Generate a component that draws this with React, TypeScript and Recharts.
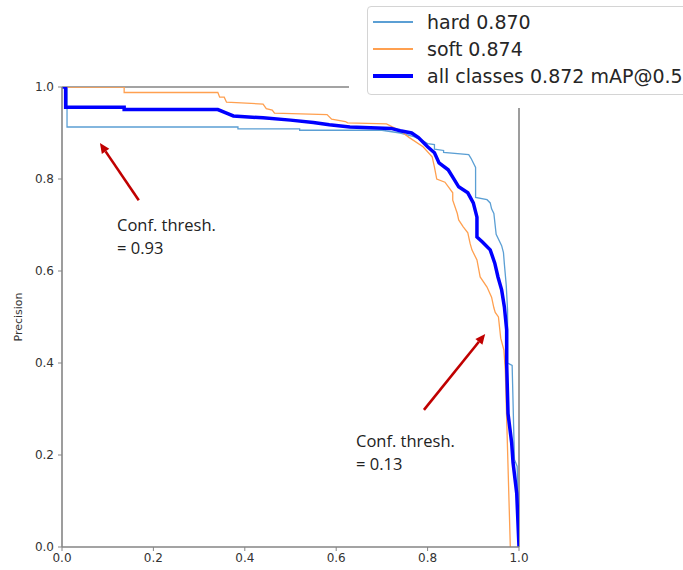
import React from 'react';
import { LineChart, Line, XAxis, YAxis, ReferenceLine, Legend } from 'recharts';

// precision / recall, step corners kept as duplicate recall values
const hardRecall = [0, 0.011, 0.011, 0.385, 0.385, 0.52, 0.52, 0.7, 0.74, 0.77, 0.79, 0.8, 0.815, 0.815, 0.835, 0.835, 0.89, 0.895, 0.905, 0.905, 0.93, 0.937, 0.94, 0.945, 0.95, 0.962, 0.966, 0.968, 0.972, 0.975, 0.975, 0.985, 0.986, 0.99, 0.996, 1.0];
const hardPrecision = [1.0, 1.0, 0.913, 0.913, 0.909, 0.909, 0.906, 0.906, 0.9, 0.892, 0.883, 0.877, 0.875, 0.865, 0.862, 0.858, 0.853, 0.845, 0.825, 0.76, 0.755, 0.748, 0.735, 0.725, 0.68, 0.655, 0.64, 0.615, 0.57, 0.515, 0.4, 0.395, 0.355, 0.19, 0.175, 0.0];

const softRecall = [0, 0.136, 0.136, 0.341, 0.345, 0.355, 0.36, 0.44, 0.447, 0.46, 0.465, 0.58, 0.59, 0.62, 0.625, 0.71, 0.74, 0.76, 0.79, 0.81, 0.815, 0.82, 0.838, 0.855, 0.855, 0.865, 0.868, 0.878, 0.888, 0.893, 0.897, 0.908, 0.915, 0.93, 0.94, 0.945, 0.948, 0.955, 0.96, 0.967, 0.97, 0.981];
const softPrecision = [1.0, 1.0, 0.988, 0.988, 0.978, 0.978, 0.967, 0.963, 0.953, 0.95, 0.943, 0.94, 0.93, 0.925, 0.922, 0.92, 0.905, 0.89, 0.87, 0.848, 0.826, 0.8, 0.793, 0.77, 0.754, 0.725, 0.711, 0.696, 0.683, 0.66, 0.646, 0.624, 0.587, 0.565, 0.543, 0.52, 0.51, 0.5, 0.454, 0.428, 0.385, 0.0];

const allRecall = [0, 0.008, 0.008, 0.136, 0.136, 0.341, 0.36, 0.375, 0.44, 0.5, 0.55, 0.585, 0.63, 0.72, 0.74, 0.765, 0.78, 0.8, 0.815, 0.825, 0.845, 0.855, 0.868, 0.888, 0.9, 0.908, 0.908, 0.92, 0.937, 0.947, 0.954, 0.962, 0.968, 0.973, 0.973, 0.976, 0.984, 0.987, 0.995, 1.0];
const allPrecision = [1.0, 1.0, 0.956, 0.956, 0.951, 0.951, 0.943, 0.937, 0.933, 0.928, 0.923, 0.918, 0.913, 0.91, 0.905, 0.9, 0.89, 0.87, 0.857, 0.835, 0.82, 0.804, 0.783, 0.77, 0.748, 0.717, 0.674, 0.663, 0.646, 0.617, 0.587, 0.559, 0.522, 0.472, 0.4, 0.29, 0.226, 0.183, 0.117, 0.0];

const seriesNames = ['hard 0.870', 'soft 0.874', 'all classes 0.872 mAP@0.5'];
const seriesColors = ['#5b9fd4', '#ffa050', '#0000ff'];
const seriesWidths = [1.3, 1.3, 3.5];

const axisTicks = [0, 0.2, 0.4, 0.6, 0.8, 1.0];

// arrows: [tailRecall, tailPrecision, headRecall, headPrecision]
const arrowLow = [0.168, 0.754, 0.083, 0.878];
const arrowHigh = [0.792, 0.298, 0.926, 0.463];
const noteLow = ['Conf. thresh.', '= 0.93'];
const noteHigh = ['Conf. thresh.', '= 0.13'];

const zip = (r: number[], p: number[]) => r.map((v, i) => ({ r: v, p: p[i] }));
const hardData = zip(hardRecall, hardPrecision);
const softData = zip(softRecall, softPrecision);
const allData = zip(allRecall, allPrecision);

const W = 683;
const H = 570;
const FONT = '"DejaVu Sans", sans-serif';
const SPINE = '#858585';
const ARROW = '#c00000';

function Arrow(props: any) {
  const { x1, y1, x2, y2 } = props;
  const dx = x2 - x1;
  const dy = y2 - y1;
  const len = Math.sqrt(dx * dx + dy * dy);
  const ux = dx / len;
  const uy = dy / len;
  const hl = 10;
  const hw = 4.5;
  const bx = x2 - ux * hl;
  const by = y2 - uy * hl;
  const pts = `${x2},${y2} ${bx - uy * hw},${by + ux * hw} ${bx + uy * hw},${by - ux * hw}`;
  return (
    <g>
      <line x1={x1} y1={y1} x2={bx} y2={by} stroke={ARROW} strokeWidth={2.6} />
      <polygon points={pts} fill={ARROW} />
    </g>
  );
}

function LegendBox() {
  return (
    <div
      style={{
        position: 'absolute',
        left: 18,
        top: 6,
        width: 340,
        height: 87,
        border: '1px solid #d4d4d4',
        borderRadius: 4,
        background: '#fff',
        fontFamily: FONT,
        fontSize: 19,
        color: '#262626',
      }}
    >
      {seriesNames.map((n, i) => (
        <div key={n} style={{ position: 'absolute', left: 0, top: 4 + i * 27, height: 22, width: 340 }}>
          <div
            style={{
              position: 'absolute',
              left: 5,
              top: 11 - seriesWidths[i] / 2,
              width: 40,
              height: seriesWidths[i] + 0.4,
              background: seriesColors[i],
            }}
          />
          <span style={{ position: 'absolute', left: 59, top: 0, lineHeight: '22px', whiteSpace: 'nowrap' }}>{n}</span>
        </div>
      ))}
    </div>
  );
}

function Note({ lines, left, top }: { lines: string[]; left: number; top: number }) {
  return (
    <div
      style={{
        position: 'absolute',
        left,
        top,
        fontFamily: '"Open Sans", Lato, sans-serif',
        fontSize: 16.5,
        lineHeight: '23px',
        color: '#222',
        whiteSpace: 'nowrap',
      }}
    >
      {lines.map((l) => (
        <div key={l}>{l}</div>
      ))}
    </div>
  );
}

export default function App() {
  return (
    <div style={{ position: 'absolute', left: 0, top: 0, width: W, height: H, background: '#fff', overflow: 'hidden' }}>
      <LineChart width={W} height={H} margin={{ top: 87, right: 164, bottom: 0, left: 0 }}>
        <XAxis
          type="number"
          dataKey="r"
          domain={[0, 1]}
          ticks={axisTicks}
          tickFormatter={(v: number) => v.toFixed(1)}
          height={23}
          allowDataOverflow
          axisLine={{ stroke: SPINE, strokeWidth: 1.6 }}
          tickLine={{ stroke: SPINE }}
          tickSize={4}
          tickMargin={2}
          tick={{ fontSize: 12, fill: '#333', fontFamily: FONT }}
        />
        <YAxis
          type="number"
          dataKey="p"
          domain={[0, 1]}
          ticks={axisTicks}
          tickFormatter={(v: number) => v.toFixed(1)}
          width={62}
          allowDataOverflow
          axisLine={{ stroke: SPINE, strokeWidth: 1.6 }}
          tickLine={{ stroke: SPINE }}
          tickSize={4}
          tickMargin={4}
          tick={{ fontSize: 12, fill: '#333', fontFamily: FONT }}
          label={{
            content: () => (
              <text
                x={18}
                y={317}
                transform="rotate(-90 18 317)"
                textAnchor="middle"
                dominantBaseline="central"
                fontSize={11}
                fontFamily={FONT}
                fill="#333"
              >
                Precision
              </text>
            ),
          }}
        />
        <ReferenceLine y={1} stroke={SPINE} strokeWidth={1.6} />
        <ReferenceLine x={1} stroke={SPINE} strokeWidth={1.6} />
        <Line data={hardData} dataKey="p" type="linear" stroke={seriesColors[0]} strokeWidth={seriesWidths[0]} dot={false} isAnimationActive={false} />
        <Line data={softData} dataKey="p" type="linear" stroke={seriesColors[1]} strokeWidth={seriesWidths[1]} dot={false} isAnimationActive={false} />
        <Line data={allData} dataKey="p" type="linear" stroke={seriesColors[2]} strokeWidth={seriesWidths[2]} dot={false} isAnimationActive={false} />
        <ReferenceLine
          segment={[{ x: arrowLow[0], y: arrowLow[1] }, { x: arrowLow[2], y: arrowLow[3] }]}
          shape={(p: any) => <Arrow {...p} />}
        />
        <ReferenceLine
          segment={[{ x: arrowHigh[0], y: arrowHigh[1] }, { x: arrowHigh[2], y: arrowHigh[3] }]}
          shape={(p: any) => <Arrow {...p} />}
        />
        <Legend
          layout="vertical"
          verticalAlign="middle"
          align="center"
          content={() => <LegendBox />}
          wrapperStyle={{ position: 'absolute', left: 349, top: 0, width: 334, height: 108, background: '#fff', overflow: 'hidden' }}
        />
      </LineChart>
      <Note lines={noteLow} left={117} top={213} />
      <Note lines={noteHigh} left={356} top={429} />
    </div>
  );
}
